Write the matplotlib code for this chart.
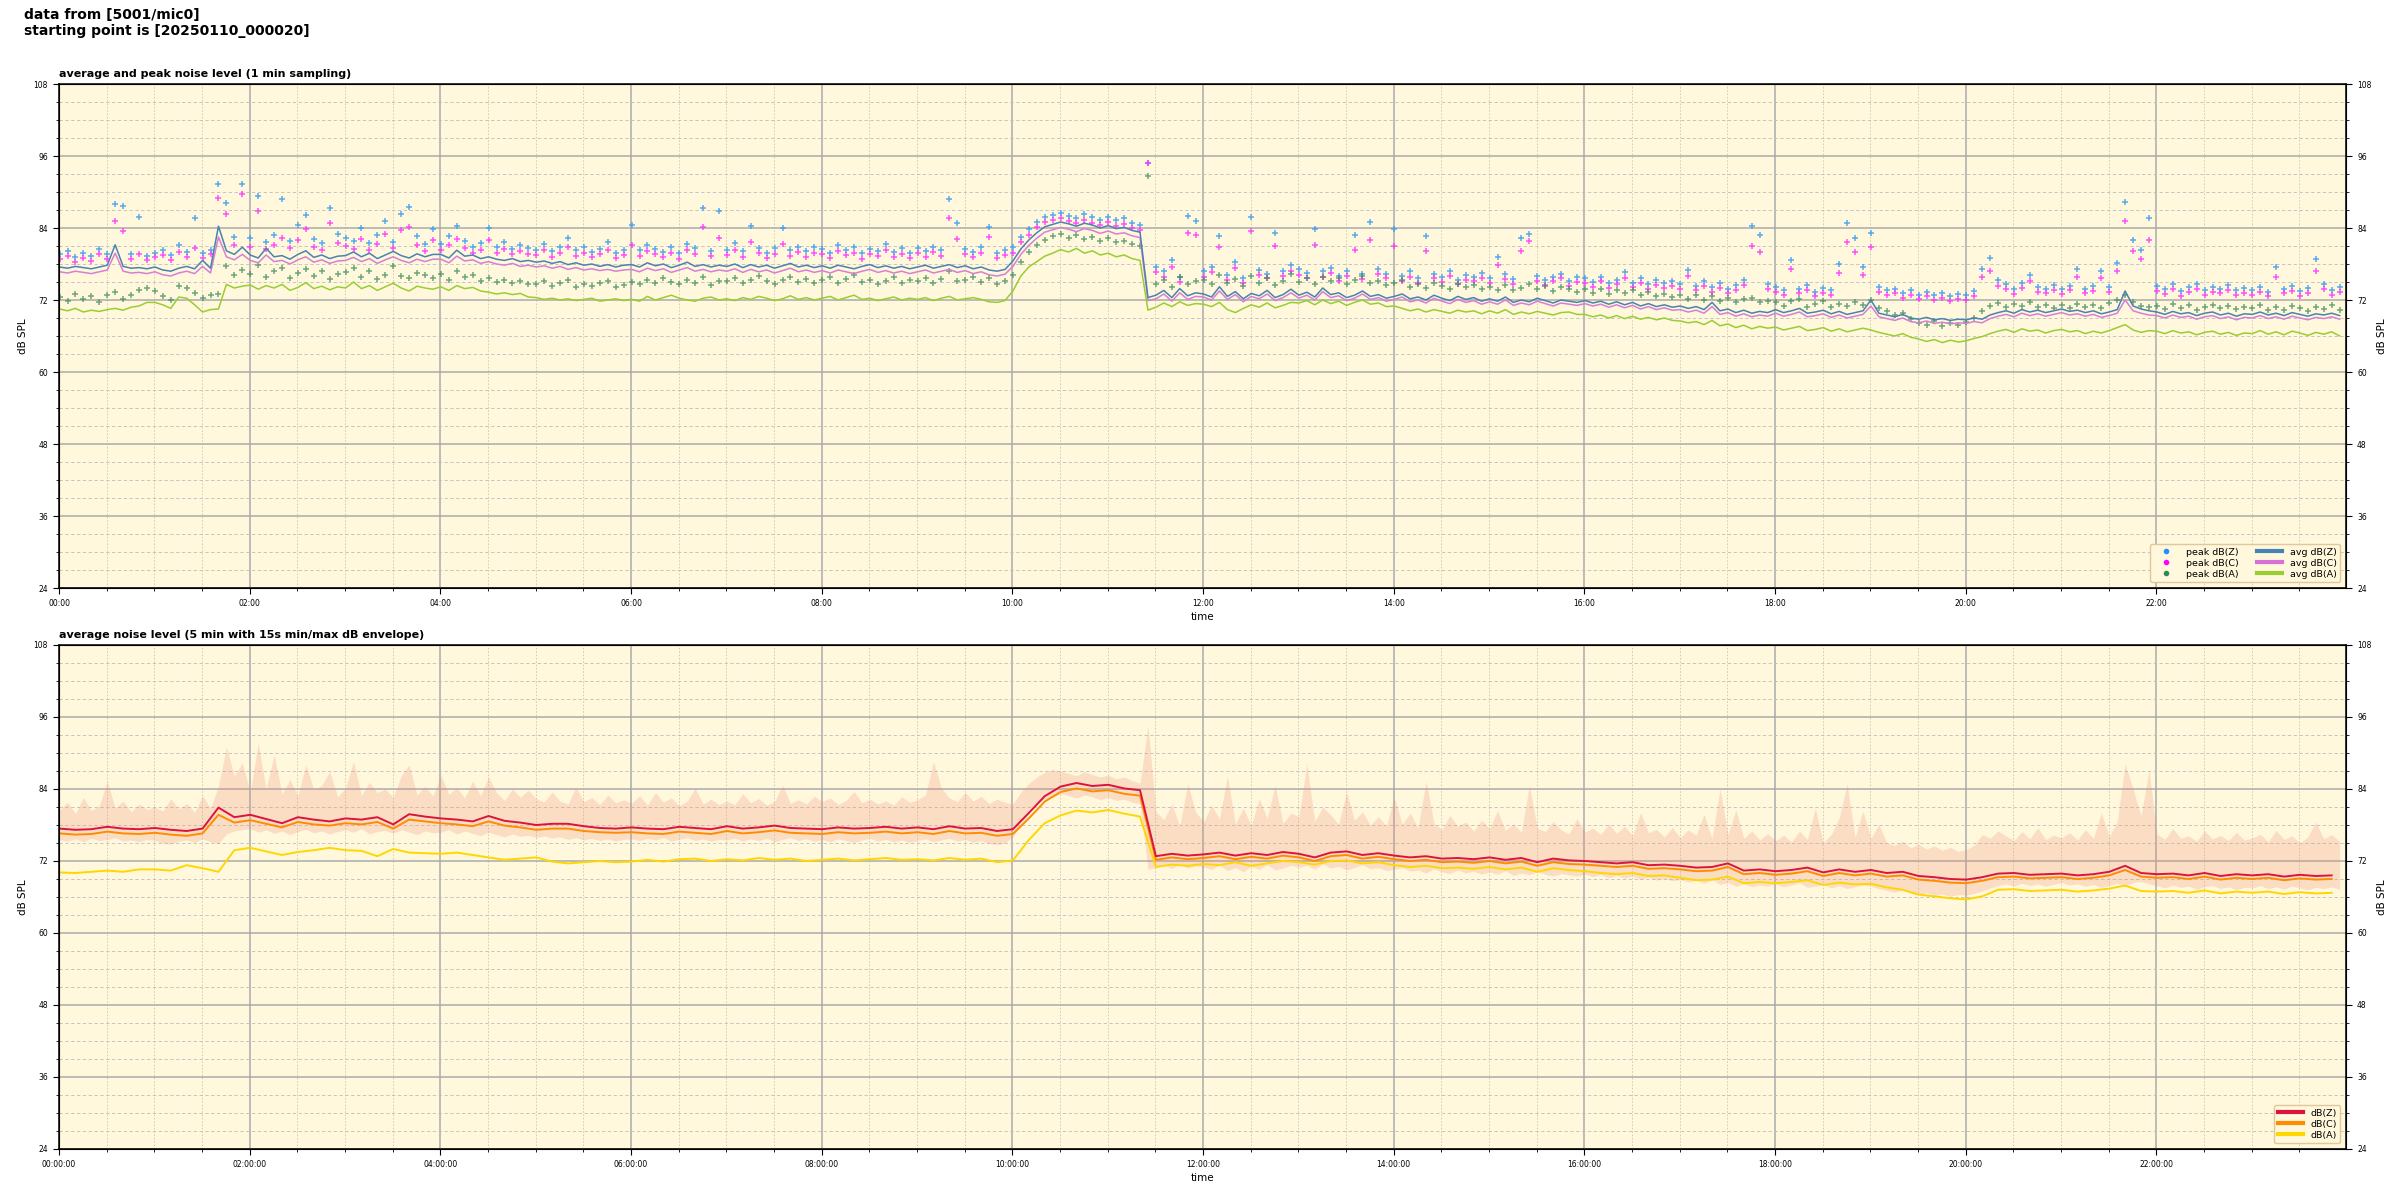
import matplotlib
matplotlib.use("Agg")
import matplotlib.pyplot as plt
import matplotlib.dates as mdates
from matplotlib.lines import Line2D
from matplotlib.ticker import MultipleLocator
import pandas as pd

# ---------------- data ----------------
SOURCE = "5001/mic0"
START = "20250110_000020"

# 1-min chart, sampled here every 5 minutes (rows = hours 00..23)
avg_z = [
 77.5,77.3,77.6,77.4,77.2,77.5,77.8,81.2,77.6,77.3,77.4,77.2,
 77.5,77.0,76.8,77.3,77.6,77.2,78.6,77.3,84.3,80.2,79.6,80.8,
 79.5,79.0,80.6,79.2,79.4,78.8,79.6,80.2,79.1,79.5,78.9,79.3,
 79.4,80.0,79.2,79.8,78.9,79.5,80.1,79.4,79.0,79.7,79.2,79.6,
 79.6,79.0,80.3,79.3,79.5,78.9,79.2,78.8,78.6,78.9,78.4,78.6,
 78.3,78.5,78.1,78.4,77.9,78.2,77.8,78.0,77.6,77.9,77.5,77.8,
 77.9,77.5,78.2,77.7,78.0,77.4,77.8,78.3,77.6,77.9,77.5,77.8,
 77.6,78.0,77.4,77.9,77.5,77.8,77.3,77.7,78.1,77.5,77.8,77.4,
 77.7,77.3,77.8,77.5,77.2,77.6,77.9,77.4,77.7,77.3,77.6,77.2,
 77.5,77.8,77.3,77.6,77.9,77.4,77.7,77.2,77.5,77.0,76.8,77.1,
 78.5,80.5,82.0,83.2,84.2,84.6,85.0,84.7,84.3,84.8,84.5,84.0,
 84.4,83.9,84.1,83.6,83.3,72.4,72.8,73.6,72.4,73.9,72.7,73.2,
 73.0,72.5,74.2,72.6,73.4,72.2,73.1,72.7,73.6,72.4,72.9,73.8,
 72.8,73.3,72.5,74.0,72.9,73.2,72.4,72.8,73.5,72.6,72.9,72.3,
 72.6,73.0,72.2,72.5,72.0,72.8,72.3,71.9,72.6,72.1,72.4,71.8,
 72.2,71.8,72.5,71.6,72.0,71.7,72.3,71.9,71.5,72.0,71.8,71.6,
 71.9,71.5,71.8,71.3,71.7,71.2,71.6,71.0,71.4,70.9,71.2,70.8,
 71.0,70.6,70.9,70.4,71.6,70.2,70.5,69.9,70.3,69.8,70.1,69.9,
 70.4,69.9,70.2,70.6,69.8,70.0,70.3,69.7,70.1,69.6,69.9,70.2,
 72.0,69.8,69.5,69.2,69.6,69.0,68.8,69.1,68.7,68.9,68.6,68.8,
 68.7,69.0,68.8,69.5,69.9,70.2,69.8,70.4,70.0,70.3,69.9,70.2,
 70.5,70.1,70.3,69.9,70.2,69.7,70.0,70.4,73.5,71.0,70.5,70.2,
 70.0,69.6,70.1,69.7,69.9,69.4,69.8,70.0,69.5,69.8,69.3,69.7,
 69.6,70.0,69.5,69.8,69.4,69.9,69.6,69.3,69.7,69.5,69.8,69.4,
]
avg_c = [
 76.7,76.5,76.8,76.6,76.4,76.7,77.0,79.8,76.8,76.5,76.6,76.4,
 76.7,76.2,76.0,76.5,76.8,76.4,77.6,76.5,82.5,79.2,78.7,79.6,
 78.6,78.2,79.5,78.4,78.6,78.0,78.7,79.2,78.3,78.7,78.1,78.5,
 78.6,79.1,78.4,78.9,78.1,78.7,79.2,78.6,78.2,78.8,78.4,78.8,
 78.8,78.2,79.3,78.5,78.7,78.1,78.4,78.0,77.8,78.1,77.6,77.8,
 77.5,77.7,77.3,77.6,77.1,77.4,77.0,77.2,76.9,77.1,76.8,77.0,
 77.1,76.7,77.3,76.9,77.2,76.6,77.0,77.4,76.8,77.1,76.7,77.0,
 76.8,77.2,76.6,77.1,76.7,77.0,76.5,76.9,77.3,76.7,77.0,76.6,
 76.9,76.5,77.0,76.7,76.4,76.8,77.1,76.6,76.9,76.5,76.8,76.4,
 76.7,77.0,76.5,76.8,77.1,76.6,76.9,76.4,76.7,76.2,76.0,76.3,
 77.6,79.6,81.1,82.3,83.3,83.7,84.1,83.8,83.4,83.9,83.6,83.1,
 83.5,83.0,83.2,82.7,82.4,71.9,72.2,73.0,71.8,73.2,72.1,72.6,
 72.5,72.0,73.5,72.1,72.9,71.7,72.6,72.2,73.0,71.9,72.4,73.2,
 72.3,72.8,72.0,73.4,72.4,72.7,71.9,72.3,73.0,72.1,72.4,71.8,
 72.1,72.5,71.7,72.0,71.5,72.3,71.8,71.4,72.1,71.6,71.9,71.3,
 71.7,71.3,72.0,71.1,71.5,71.2,71.8,71.4,71.0,71.5,71.3,71.1,
 71.4,71.0,71.3,70.8,71.2,70.7,71.1,70.5,70.9,70.4,70.7,70.3,
 70.4,70.0,70.3,69.8,70.9,69.6,69.9,69.3,69.7,69.2,69.5,69.3,
 69.8,69.3,69.6,70.0,69.2,69.4,69.7,69.1,69.5,69.0,69.3,69.6,
 71.0,69.2,68.9,68.6,69.0,68.4,68.2,68.5,68.1,68.3,68.0,68.2,
 68.1,68.4,68.2,68.9,69.3,69.6,69.2,69.8,69.4,69.7,69.3,69.6,
 69.9,69.5,69.7,69.3,69.6,69.1,69.4,69.8,72.0,70.2,69.8,69.5,
 69.4,69.0,69.5,69.1,69.3,68.8,69.2,69.4,68.9,69.2,68.7,69.1,
 69.0,69.4,68.9,69.2,68.8,69.3,69.0,68.7,69.1,68.9,69.2,68.8,
]
avg_a = [
 70.5,70.2,70.6,70.0,70.3,70.1,70.4,70.6,70.3,70.8,71.0,71.6,
 71.6,71.2,70.6,72.5,72.3,71.2,70.0,70.4,70.5,74.6,74.0,74.3,
 74.5,73.8,74.4,74.0,74.6,73.6,74.1,74.9,73.9,74.3,73.7,74.2,
 74.0,75.0,73.9,74.4,73.6,74.2,74.8,74.0,73.5,74.3,74.0,73.8,
 74.2,73.6,74.4,73.9,74.1,73.5,73.3,73.0,73.2,72.9,73.1,72.5,
 72.4,72.1,72.3,72.0,72.2,71.9,72.1,72.3,71.8,72.0,72.2,71.9,
 72.1,71.8,72.6,72.0,72.4,72.8,72.3,72.0,71.8,72.3,72.5,72.0,
 72.2,71.9,72.4,72.1,72.6,72.3,71.9,72.2,72.7,72.1,72.4,72.0,
 72.3,72.6,72.0,72.4,72.8,72.1,72.3,71.9,72.2,72.5,72.0,72.3,
 72.1,72.4,71.9,72.3,72.6,72.0,72.2,72.4,72.1,71.7,71.6,71.9,
 73.5,76.0,77.5,78.4,79.3,79.8,80.4,80.0,80.6,79.8,80.2,79.5,
 79.8,79.2,79.5,78.9,78.6,70.3,70.8,71.5,70.9,71.7,71.1,71.4,
 71.3,70.9,71.6,70.4,69.9,70.6,71.2,70.8,71.5,70.7,71.1,71.6,
 71.5,71.9,71.2,72.0,71.4,71.8,71.1,71.6,72.0,71.3,71.5,70.9,
 71.0,70.6,70.2,70.5,70.0,70.4,70.1,69.8,70.3,70.0,70.2,69.7,
 70.2,69.8,70.4,69.6,70.0,69.7,70.1,69.8,69.5,69.9,70.0,69.6,
 69.6,69.2,69.5,69.0,69.4,68.9,69.3,68.8,69.1,68.7,69.0,68.6,
 68.5,68.2,68.4,67.9,68.6,67.7,68.0,67.4,67.8,67.2,67.6,67.3,
 67.5,67.0,67.3,67.6,66.9,67.1,67.4,66.8,67.2,66.7,67.0,67.3,
 67.0,66.6,66.3,66.0,66.4,65.8,65.5,65.1,65.4,64.9,65.3,65.0,
 65.2,65.6,65.9,66.4,66.8,67.1,66.6,67.2,66.8,67.0,66.5,66.9,
 67.1,66.7,66.9,66.4,66.8,66.5,66.9,67.4,67.9,67.0,66.6,66.9,
 66.8,66.4,66.9,66.5,66.7,66.2,66.6,66.8,66.3,66.6,66.1,66.5,
 66.4,66.9,66.3,66.7,66.2,66.8,66.5,66.1,66.6,66.3,66.7,66.0,
]
peak_z = [
 79.6,80.2,79.1,79.8,79.3,80.5,79.6,88.0,87.6,79.7,85.8,79.4,
 79.9,80.3,79.5,81.2,80.0,85.6,79.8,80.4,91.3,88.2,82.5,91.4,
 82.3,89.4,81.6,82.8,88.8,81.9,84.5,86.1,82.1,81.5,87.3,83.0,
 82.4,81.8,84.0,81.5,82.9,85.2,81.7,86.4,87.5,82.6,81.3,83.8,
 81.4,82.7,84.4,81.9,80.8,81.5,84.0,80.9,81.6,80.5,81.2,80.6,
 80.4,81.3,80.1,80.8,82.4,80.3,80.9,80.0,80.5,81.6,79.9,80.4,
 84.5,80.3,81.2,80.5,80.0,80.9,79.8,81.4,80.6,87.4,80.2,86.9,
 80.4,81.5,80.1,84.4,80.7,79.9,80.6,84.0,80.3,80.9,80.1,80.8,
 80.5,79.9,81.1,80.4,80.8,79.8,80.5,80.2,81.4,80.0,80.6,79.9,
 80.7,80.1,80.9,80.3,88.9,84.8,80.5,80.0,80.8,84.2,79.9,80.4,
 80.8,82.5,83.8,85.0,85.9,86.2,86.5,86.0,85.7,86.3,85.8,85.4,
 85.9,85.3,85.6,84.9,84.5,94.8,77.5,76.8,78.6,75.9,86.0,85.1,
 76.8,77.5,82.6,76.2,78.4,75.6,85.9,77.0,76.4,83.2,76.9,77.8,
 77.1,76.5,83.9,76.8,77.4,76.0,76.9,82.8,76.3,85.0,77.2,76.4,
 83.8,76.0,76.8,75.6,82.7,76.4,75.8,76.9,75.4,76.2,75.9,76.5,
 75.7,79.2,76.3,75.5,82.3,83.0,76.0,75.3,75.9,76.4,75.1,75.8,
 75.6,75.0,75.9,74.8,75.4,76.6,74.9,75.7,74.6,75.3,74.8,75.2,
 74.7,77.0,74.4,75.1,74.2,74.8,73.9,74.5,75.4,84.3,82.8,74.6,
 74.2,73.6,78.6,73.9,74.5,73.4,74.0,73.7,78.0,84.9,82.3,77.5,
 83.2,74.2,73.6,73.9,73.2,73.6,72.9,73.4,72.8,73.1,72.6,73.0,
 72.8,73.5,77.2,79.0,75.3,74.6,73.8,74.9,76.1,74.2,73.9,74.5,
 73.8,74.4,77.1,73.9,74.3,76.8,74.1,78.2,88.4,82.0,80.4,85.6,
 74.3,73.8,74.6,73.5,74.1,74.7,73.6,74.2,73.9,74.5,73.7,74.0,
 73.6,74.2,73.4,77.5,73.9,74.3,73.5,74.0,78.8,74.6,73.7,74.1,
]
peak_c = [
 78.8,79.3,78.4,79.0,78.5,79.6,78.9,85.2,83.5,78.9,79.6,78.6,
 79.1,79.5,78.7,80.0,79.2,80.6,79.0,79.6,89.0,86.4,81.2,89.7,
 80.9,86.8,80.5,81.2,82.4,80.6,82.0,83.8,80.8,80.3,84.9,81.5,
 81.0,80.5,82.2,80.3,81.4,83.0,80.6,83.6,84.2,81.1,80.2,82.0,
 80.3,81.2,82.1,80.7,79.9,80.4,82.0,79.9,80.5,79.6,80.2,79.7,
 79.5,80.3,79.2,79.9,80.8,79.4,79.9,79.1,79.6,80.4,79.0,79.5,
 81.2,79.4,80.2,79.6,79.1,79.9,78.9,80.3,79.7,84.2,79.3,82.3,
 79.5,80.4,79.2,81.6,79.8,79.0,79.7,81.3,79.4,80.0,79.2,79.9,
 79.6,79.0,80.1,79.5,79.9,78.9,79.6,79.3,80.4,79.1,79.7,79.0,
 79.8,79.2,80.0,79.4,85.6,82.1,79.6,79.1,79.9,82.5,79.0,79.5,
 79.9,81.6,82.9,84.1,85.0,85.3,85.6,85.1,84.8,85.4,84.9,84.5,
 85.0,84.4,84.7,84.0,83.6,94.8,76.6,75.9,77.5,75.0,83.2,82.8,
 75.9,76.6,80.8,75.4,77.3,74.8,83.5,76.1,75.6,81.0,76.0,76.9,
 76.2,75.7,81.2,75.9,76.5,75.2,76.0,80.3,75.5,82.0,76.3,75.6,
 81.0,75.2,75.9,74.8,80.1,75.6,75.0,76.0,74.6,75.4,75.1,75.6,
 74.9,77.8,75.5,74.7,80.2,81.8,75.2,74.5,75.1,75.6,74.3,75.0,
 74.8,74.2,75.1,74.0,74.6,75.7,74.1,74.9,73.8,74.5,74.0,74.4,
 73.9,76.0,73.6,74.3,73.4,74.0,73.1,73.7,74.5,81.0,80.0,73.8,
 73.4,72.8,77.2,73.1,73.7,72.6,73.2,72.9,76.5,81.6,80.0,76.2,
 80.8,73.4,72.8,73.1,72.4,72.8,72.1,72.6,72.0,72.3,71.8,72.2,
 72.0,72.7,75.8,76.9,74.4,73.8,73.0,74.0,75.2,73.4,73.1,73.7,
 73.0,73.6,75.8,73.1,73.5,75.6,73.3,76.9,85.2,80.2,78.8,82.0,
 73.5,73.0,73.8,72.7,73.3,73.9,72.8,73.4,73.1,73.7,72.9,73.2,
 72.8,73.4,72.6,75.9,73.1,73.5,72.7,73.2,76.8,73.8,72.9,73.3,
]
peak_a = [
 72.5,71.8,73.0,72.2,72.6,71.6,72.9,73.4,72.1,72.8,73.6,74.0,
 73.5,72.6,72.0,74.4,74.0,73.2,72.4,72.8,73.0,77.6,76.2,77.0,
 76.4,77.8,75.9,76.8,77.3,75.6,76.5,77.1,76.0,76.8,75.5,76.3,
 76.6,77.4,75.8,76.9,75.5,76.2,77.6,76.0,75.7,76.5,76.1,75.6,
 76.3,75.4,76.8,75.9,76.2,75.2,75.6,75.0,75.4,74.8,75.2,74.6,
 74.6,75.1,74.4,74.9,75.4,74.2,74.7,74.3,74.8,75.2,74.1,74.5,
 75.0,74.6,75.3,74.8,75.6,75.0,74.7,75.4,74.9,75.8,74.5,75.2,
 75.1,75.7,74.8,75.4,76.0,75.2,74.6,75.3,75.9,75.0,75.5,74.8,
 75.3,75.8,74.9,75.5,76.1,75.0,75.4,74.7,75.2,75.9,74.8,75.3,
 75.2,75.7,74.9,75.5,76.8,75.1,75.4,75.8,75.0,75.6,74.6,75.1,
 76.2,78.4,80.0,81.1,82.0,82.6,83.0,82.4,82.8,82.2,82.5,81.8,
 82.3,81.6,81.9,81.3,81.0,92.6,74.6,75.3,74.2,75.8,74.7,75.1,
 75.4,74.6,76.2,74.8,75.5,74.3,76.0,74.9,75.6,74.5,75.2,76.4,
 75.0,75.7,74.6,75.9,75.1,75.6,74.7,75.3,76.0,74.8,75.2,74.5,
 74.8,75.3,74.2,74.7,74.0,74.9,74.3,73.9,74.6,74.1,74.5,73.8,
 74.2,73.7,74.5,73.6,74.0,74.6,73.8,74.3,73.5,74.1,73.9,73.4,
 73.8,73.2,73.9,73.0,73.6,73.1,73.7,72.8,73.3,72.6,73.0,72.5,
 72.8,72.2,72.9,72.0,72.6,71.8,72.3,71.6,72.1,72.4,71.7,71.9,
 71.6,71.0,71.8,72.2,70.9,71.4,71.9,70.8,71.3,71.0,71.6,71.2,
 72.0,70.6,70.2,69.5,69.9,68.8,68.2,67.8,68.5,67.6,68.1,67.9,
 68.3,69.0,70.2,71.0,71.5,70.8,71.3,71.0,71.6,70.9,71.2,70.7,
 71.1,70.6,71.4,70.8,71.2,70.7,71.5,72.0,72.8,71.6,71.0,70.8,
 71.0,70.5,71.3,70.7,71.1,70.4,70.9,71.2,70.6,71.0,70.5,70.8,
 70.6,71.2,70.4,70.9,70.3,71.0,70.7,70.2,70.8,70.5,71.1,70.4,
]

# 5-min chart lines, sampled every 10 minutes (rows = hours)
line_z = [
 77.4,77.2,77.3,77.7,77.4,77.3, 77.5,77.2,77.0,77.4,80.9,79.3,
 79.7,79.0,78.3,79.3,78.9,78.6, 79.1,78.9,79.3,78.1,79.8,79.4,
 79.1,78.9,78.6,79.5,78.7,78.4, 78.0,78.2,78.2,77.8,77.5,77.4,
 77.6,77.4,77.3,77.7,77.5,77.3, 77.8,77.4,77.6,77.9,77.5,77.4,
 77.3,77.6,77.4,77.5,77.7,77.4, 77.6,77.3,77.8,77.4,77.5,77.0,
 77.3,80.0,82.8,84.4,85.0,84.5, 84.7,84.1,83.8,72.8,73.2,72.9,
 73.1,73.4,72.9,73.3,73.0,73.5, 73.2,72.6,73.4,73.6,73.0,73.3,
 72.9,72.6,72.8,72.4,72.5,72.3, 72.6,72.2,72.5,71.8,72.4,72.1,
 72.0,71.8,71.6,71.8,71.3,71.4, 71.2,70.9,71.0,71.6,70.4,70.6,
 70.3,70.5,70.9,70.1,70.6,70.2, 70.5,70.0,70.2,69.5,69.3,69.0,
 68.9,69.3,69.9,70.0,69.7,69.8, 69.9,69.6,69.8,70.2,71.2,70.0,
 69.8,69.9,69.6,70.0,69.5,69.8, 69.6,69.8,69.4,69.7,69.5,69.6,
]
line_c = [
 76.6,76.4,76.5,76.9,76.6,76.5, 76.7,76.4,76.2,76.6,79.7,78.4,
 78.8,78.2,77.6,78.5,78.1,77.9, 78.3,78.1,78.5,77.4,78.9,78.6,
 78.3,78.1,77.8,78.6,77.9,77.6, 77.2,77.4,77.4,77.0,76.8,76.7,
 76.8,76.6,76.5,76.9,76.7,76.5, 77.0,76.6,76.8,77.1,76.7,76.6,
 76.5,76.8,76.6,76.7,76.9,76.6, 76.8,76.5,77.0,76.6,76.7,76.2,
 76.5,79.1,81.9,83.5,84.1,83.6, 83.8,83.2,82.9,72.2,72.6,72.3,
 72.5,72.8,72.3,72.7,72.4,72.9, 72.6,72.0,72.8,73.0,72.4,72.7,
 72.3,72.0,72.2,71.8,71.9,71.7, 72.0,71.6,71.9,71.2,71.8,71.5,
 71.4,71.2,71.0,71.2,70.7,70.8, 70.6,70.3,70.4,71.0,69.8,70.0,
 69.7,69.9,70.3,69.5,70.0,69.6, 69.9,69.4,69.6,68.9,68.7,68.4,
 68.3,68.7,69.3,69.4,69.1,69.2, 69.3,69.0,69.2,69.6,70.5,69.4,
 69.2,69.3,69.0,69.4,68.9,69.2, 69.0,69.2,68.8,69.1,68.9,69.0,
]
line_a = [
 70.1,70.0,70.2,70.4,70.2,70.6, 70.6,70.4,71.3,70.8,70.2,73.8,
 74.2,73.6,73.0,73.5,73.8,74.2, 73.8,73.7,72.8,74.0,73.4,73.3,
 73.2,73.4,73.0,72.6,72.2,72.4, 72.6,71.9,71.6,71.8,72.0,71.8,
 71.9,72.2,71.9,72.3,72.4,72.0, 72.3,72.1,72.5,72.2,72.4,72.0,
 72.2,72.4,72.1,72.3,72.5,72.2, 72.3,72.1,72.5,72.2,72.4,71.8,
 72.1,75.5,78.3,79.6,80.4,80.1, 80.5,79.9,79.4,71.0,71.4,71.2,
 71.5,71.3,71.8,71.2,71.6,72.0, 71.8,71.4,72.0,72.1,71.6,71.8,
 71.3,71.0,71.2,70.8,70.9,70.7, 71.0,70.6,70.9,70.2,70.8,70.5,
 70.3,70.0,69.8,70.0,69.5,69.6, 69.2,68.8,68.9,69.4,68.3,68.5,
 68.3,68.5,68.8,68.0,68.4,68.1, 68.2,67.6,67.2,66.4,66.1,65.8,
 65.6,66.1,67.2,67.3,67.0,67.1, 67.2,66.9,67.1,67.4,67.9,67.0,
 66.9,67.0,66.7,67.1,66.6,66.9, 66.7,66.9,66.5,66.8,66.6,66.7,
]
# 15 s min/max envelope, sampled every 5 minutes
env_max = [
 80.5,81.8,79.9,82.6,80.4,81.2,85.3,80.8,82.0,80.2,81.5,80.6,
 81.0,80.3,82.4,80.7,81.6,80.1,82.9,80.8,84.5,91.0,86.2,88.4,
 83.5,91.6,84.0,89.7,83.2,85.6,82.8,88.0,83.9,84.6,86.9,82.7,
 84.2,88.6,82.9,85.1,83.4,84.0,82.6,86.2,88.0,83.0,84.5,82.8,
 86.3,83.1,84.2,82.5,85.3,82.9,86.0,83.4,82.1,84.0,82.6,83.8,
 82.4,81.8,83.5,82.0,81.5,84.3,81.9,82.6,81.4,83.0,81.7,82.2,
 81.6,82.9,81.3,83.4,81.8,82.5,81.2,82.0,84.1,81.5,82.3,81.4,
 82.0,81.4,83.2,81.7,82.4,81.3,81.9,84.6,81.6,82.2,81.5,82.8,
 81.9,82.5,81.4,82.1,83.6,81.7,82.3,81.5,82.0,81.3,82.7,81.8,
 82.2,83.0,88.6,84.2,82.5,81.9,83.4,82.0,82.8,81.6,82.3,81.8,
 81.5,83.5,84.9,86.0,86.8,87.2,87.0,86.6,86.2,86.9,86.4,86.0,
 86.3,85.7,86.0,85.4,85.0,94.5,80.2,78.9,81.5,77.8,84.9,80.2,
 78.5,81.3,79.0,86.2,78.2,80.8,77.9,82.4,79.1,84.6,78.3,80.0,
 79.4,88.2,78.6,81.0,79.7,78.1,83.5,78.8,80.2,78.0,79.4,77.8,
 82.6,78.1,80.0,77.5,85.3,78.3,77.2,79.6,77.8,78.5,77.0,78.8,
 77.4,80.4,77.1,78.2,76.8,84.6,77.5,76.9,78.6,77.2,76.5,79.1,
 76.8,77.5,76.4,78.2,76.6,77.8,76.2,80.1,76.7,77.3,76.0,77.6,
 75.9,77.2,76.3,79.8,75.7,84.0,76.4,80.5,75.8,77.0,75.5,76.6,
 75.4,76.3,75.2,77.0,75.6,80.8,75.1,76.4,79.2,84.9,76.0,80.3,
 75.8,78.1,75.0,74.6,75.3,74.2,74.8,74.0,74.5,73.8,74.3,73.6,
 73.9,74.6,76.4,75.8,77.0,76.2,75.4,76.9,75.7,77.5,75.6,76.3,
 75.9,76.7,75.5,77.2,75.8,80.0,76.1,78.6,88.2,84.0,79.5,87.2,
 76.5,75.6,77.4,75.8,76.2,75.3,77.0,75.7,76.3,75.4,76.8,75.5,
 75.8,76.5,75.2,77.1,75.6,76.2,75.0,76.0,78.5,75.7,76.4,75.3,
]
env_min = [
 75.6,75.3,75.7,75.2,75.8,75.4,75.6,75.9,75.3,75.5,75.2,75.6,
 75.4,75.0,74.8,75.3,75.5,75.1,75.7,75.2,74.9,76.5,77.0,77.2,
 77.4,76.8,77.2,76.6,77.0,76.4,76.9,77.3,76.7,77.0,76.5,76.9,
 77.2,76.8,77.4,76.5,76.9,77.1,76.6,77.2,76.8,76.4,77.0,76.7,
 76.8,77.2,76.5,77.0,76.6,76.2,76.8,76.4,76.0,76.5,76.1,76.3,
 75.9,76.2,75.8,76.0,75.6,75.9,75.5,75.8,75.4,75.7,75.3,75.6,
 75.7,75.4,75.8,75.5,75.9,75.3,75.6,75.9,75.4,75.7,75.3,75.6,
 75.5,75.8,75.3,75.7,75.4,75.8,75.2,75.6,75.9,75.4,75.7,75.3,
 75.6,75.2,75.7,75.4,75.1,75.5,75.8,75.3,75.6,75.2,75.5,75.1,
 75.4,75.7,75.2,75.5,75.8,75.3,75.6,75.1,75.4,74.9,74.7,75.0,
 76.0,78.2,80.0,81.4,82.4,82.8,83.2,82.9,82.5,83.0,82.7,82.2,
 82.6,82.1,82.3,81.8,81.5,70.6,70.9,71.4,70.7,71.6,70.8,71.2,
 71.0,70.6,71.3,70.4,70.9,70.2,71.1,70.6,71.4,70.5,70.8,71.3,
 70.9,71.3,70.6,71.5,70.8,71.1,70.5,70.9,71.4,70.7,70.9,70.4,
 70.6,70.9,70.3,70.5,70.0,70.7,70.2,69.9,70.5,70.0,70.3,69.8,
 70.2,69.8,70.4,69.6,70.0,69.7,70.2,69.8,69.5,69.9,69.7,69.5,
 69.8,69.4,69.7,69.2,69.6,69.1,69.5,68.9,69.3,68.8,69.1,68.7,
 68.9,68.5,68.8,68.3,68.9,68.1,68.4,67.8,68.2,67.7,68.0,67.8,
 68.2,67.7,68.0,68.4,67.6,67.8,68.1,67.5,67.9,67.4,67.7,68.0,
 67.8,67.4,67.1,66.8,67.2,66.6,66.4,66.7,66.2,66.5,66.1,66.4,
 66.3,66.6,67.0,67.5,67.9,68.2,67.8,68.3,67.9,68.2,67.8,68.1,
 68.4,68.0,68.2,67.8,68.1,67.6,67.9,68.3,67.7,68.4,68.6,68.2,
 67.9,67.5,68.0,67.6,67.8,67.3,67.7,67.9,67.4,67.7,67.2,67.6,
 67.5,67.9,67.4,67.7,67.3,67.8,67.5,67.2,67.6,67.4,67.7,67.3,
]

y_ticks = [24, 36, 48, 60, 72, 84, 96, 108]
top_title = "average and peak noise level (1 min sampling)"
bottom_title = "average noise level (5 min with 15s min/max dB envelope)"

# ---------------- figure ----------------
t5 = pd.date_range("2025-01-10 00:00:20", periods=len(avg_z), freq="5min")
t10 = pd.date_range("2025-01-10 00:00:20", periods=len(line_z), freq="10min")
x0 = pd.Timestamp("2025-01-10 00:00:00")
x1 = pd.Timestamp("2025-01-10 23:59:20")

BG = "#fff8dc"
TICK_FS = 5.5
LAB_FS = 7.5

fig = plt.figure(figsize=(24, 12), dpi=100)
fig.text(0.01, 0.993, f"data from [{SOURCE}]\nstarting point is [{START}]",
         fontsize=10, fontweight="bold", ha="left", va="top", linespacing=1.1)

ax1 = fig.add_axes([0.0246, 0.51, 0.9529, 0.42])
ax2 = fig.add_axes([0.0246, 0.0425, 0.9529, 0.42])


def style(ax, fmt):
    ax.set_facecolor(BG)
    ax.set_xlim(x0, x1)
    ax.set_ylim(24, 108)
    ax.set_yticks(y_ticks)
    ax.yaxis.set_minor_locator(MultipleLocator(3))
    ax.xaxis.set_major_locator(mdates.HourLocator(byhour=range(0, 24, 2)))
    ax.xaxis.set_minor_locator(mdates.MinuteLocator(byminute=[0, 30]))
    ax.xaxis.set_major_formatter(mdates.DateFormatter(fmt))
    ax.grid(which="major", axis="both", color="#aaaaaa", lw=1.1, zorder=0)
    ax.grid(which="minor", axis="y", color="#bdbdbd", lw=0.6, ls=(0, (4, 3)), zorder=0)
    ax.grid(which="minor", axis="x", color="#cfc7ad", lw=0.6, ls=(0, (2, 2)), zorder=0)
    ax.set_axisbelow(True)
    ax.tick_params(which="major", labelsize=TICK_FS, length=4.5, width=0.8)
    ax.tick_params(which="minor", length=2.5, width=0.6)
    ax.set_ylabel("dB SPL", fontsize=LAB_FS)
    ax.set_xlabel("time", fontsize=LAB_FS, labelpad=3)
    for s in ax.spines.values():
        s.set_linewidth(1.1)
    r = ax.twinx()
    r.set_ylim(24, 108)
    r.set_yticks(y_ticks)
    r.yaxis.set_minor_locator(MultipleLocator(3))
    r.tick_params(which="major", labelsize=TICK_FS, length=4.5, width=0.8)
    r.tick_params(which="minor", length=2.5, width=0.6)
    r.set_ylabel("dB SPL", fontsize=LAB_FS)
    return r


style(ax1, "%H:%M")
ax1.set_title(top_title, loc="left", fontsize=8, fontweight="bold", pad=5)

col_pz, col_pc, col_pa = "#3d9df0", "#ff33ff", "#3c8c5a"
col_az, col_ac, col_aa = "#4a82b0", "#d77fd4", "#9acd32"
ax1.scatter(t5, peak_z, marker="+", s=13, linewidths=1.1, color=col_pz, alpha=0.85, zorder=2)
ax1.scatter(t5, peak_c, marker="+", s=13, linewidths=1.1, color=col_pc, alpha=0.85, zorder=2)
ax1.scatter(t5, peak_a, marker="+", s=13, linewidths=1.1, color=col_pa, alpha=0.75, zorder=2)
ax1.plot(t5, avg_c, color=col_ac, lw=1.1, zorder=3)
ax1.plot(t5, avg_z, color=col_az, lw=1.1, zorder=4)
ax1.plot(t5, avg_a, color=col_aa, lw=1.1, zorder=3)

handles1 = [
    Line2D([], [], ls="none", marker="o", ms=3, color="#1e90ff", label="peak dB(Z)"),
    Line2D([], [], ls="none", marker="o", ms=3, color="#ff00ff", label="peak dB(C)"),
    Line2D([], [], ls="none", marker="o", ms=3, color="#2e8b57", label="peak dB(A)"),
    Line2D([], [], color="#4682b4", lw=3, label="avg dB(Z)"),
    Line2D([], [], color="#da70d6", lw=3, label="avg dB(C)"),
    Line2D([], [], color="#9acd32", lw=3, label="avg dB(A)"),
]
ax1.legend(handles=handles1, loc="lower right", ncol=2, fontsize=6.8,
           facecolor=BG, edgecolor="#e0c89a", framealpha=1, borderaxespad=0.6,
           handlelength=2.6, columnspacing=2.0, labelspacing=0.2).set_zorder(10)

style(ax2, "%H:%M:%S")
ax2.set_title(bottom_title, loc="left", fontsize=8, fontweight="bold", pad=5)
ax2.fill_between(t5, env_min, env_max, color="#f08a78", alpha=0.24, lw=0, zorder=1)
ax2.plot(t10, line_a, color="#ffd700", lw=1.4, zorder=3, label="dB(A)")
ax2.plot(t10, line_c, color="#ff8c00", lw=1.4, zorder=3, label="dB(C)")
ax2.plot(t10, line_z, color="#dc143c", lw=1.4, zorder=4, label="dB(Z)")
handles2 = [
    Line2D([], [], color="#dc143c", lw=3, label="dB(Z)"),
    Line2D([], [], color="#ff8c00", lw=3, label="dB(C)"),
    Line2D([], [], color="#ffd700", lw=3, label="dB(A)"),
]
ax2.legend(handles=handles2, loc="lower right", fontsize=6.8, facecolor=BG,
           edgecolor="#e0c89a", framealpha=1, borderaxespad=0.6,
           handlelength=2.6, labelspacing=0.2).set_zorder(10)

fig.savefig("out.png", dpi=100, facecolor="white")
